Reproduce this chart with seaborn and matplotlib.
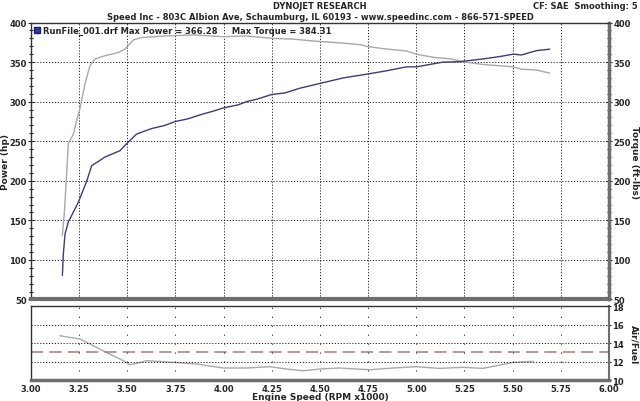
import numpy as np
import pandas as pd
import matplotlib
matplotlib.use("Agg")
import matplotlib.pyplot as plt
import seaborn as sns
from matplotlib.ticker import MultipleLocator

# Data
power_rpm = [3.163, 3.168, 3.177, 3.194, 3.246, 3.29, 3.315, 3.384, 3.462, 3.497,
             3.548, 3.626, 3.695, 3.75, 3.81, 3.894, 3.946, 3.998, 4.076, 4.119,
             4.171, 4.249, 4.318, 4.396, 4.448, 4.50, 4.621, 4.75, 4.846, 4.95,
             5.002, 5.07, 5.14, 5.226, 5.347, 5.434, 5.503, 5.546, 5.624, 5.693]
power_hp = [80.3, 107.7, 133, 148, 173, 200, 219, 230, 238, 247,
            259, 266, 270, 275, 278, 284.5, 288, 292, 296, 300,
            303, 309, 311, 317, 320, 323, 330, 335, 339, 344,
            344, 347, 350, 350.5, 354, 357, 360, 359, 364.5, 366.3]

torque_rpm = [3.163, 3.174, 3.186, 3.194, 3.22, 3.237, 3.254, 3.28, 3.306, 3.332,
              3.384, 3.453, 3.488, 3.531, 3.575, 3.695, 3.85, 4.0, 4.12, 4.25,
              4.36, 4.45, 4.5, 4.62, 4.71, 4.75, 4.846, 4.95, 5.0, 5.09,
              5.18, 5.252, 5.347, 5.503, 5.546, 5.624, 5.693]
torque_ftlb = [131, 162, 213, 247, 259, 276, 291, 322, 345.5, 354,
               358, 362, 366.5, 378, 381, 383, 384.3, 382, 383, 380,
               379, 377, 376, 374, 372, 369.5, 366.5, 364, 360, 356,
               354, 350, 347, 344, 341, 340, 336]

afr_rpm = [3.15, 3.254, 3.306, 3.39, 3.479, 3.514, 3.548, 3.60, 3.687, 3.86,
           3.998, 4.12, 4.24, 4.327, 4.413, 4.5, 4.6, 4.76, 4.88, 5.0,
           5.12, 5.24, 5.347, 5.416, 5.503, 5.607]
afr = [14.79, 14.43, 13.9, 13.0, 12.09, 11.66, 11.8, 12.09, 11.98, 11.73,
       11.3, 11.3, 11.44, 11.19, 11.0, 11.19, 11.3, 11.11, 11.3, 11.44,
       11.26, 11.37, 11.26, 11.55, 11.91, 12.02]
afr_target = 13

df_power = pd.DataFrame({"rpm": power_rpm, "val": power_hp})
df_torque = pd.DataFrame({"rpm": torque_rpm, "val": torque_ftlb})
df_afr = pd.DataFrame({"rpm": afr_rpm, "afr": afr})

sns.set_style("white")
plt.rcParams["font.family"] = ["DejaVu Sans"]
plt.rcParams["font.weight"] = "bold"

FS = 6
grid_style = dict(color="#222222", linestyle=(0, (1.2, 1.8)), linewidth=0.7)

fig = plt.figure(figsize=(6.4, 4.02), dpi=100)
ax = fig.add_axes([0.0484, 0.2525, 0.903, 0.689])
ax2 = fig.add_axes([0.0484, 0.0522, 0.903, 0.184])

# top panel: power + torque
sns.lineplot(data=df_torque, x="rpm", y="val", ax=ax, color="#a9a9a9", linewidth=1)
sns.lineplot(data=df_power, x="rpm", y="val", ax=ax, color="#3c3c7a", linewidth=1)
ax.set_xlim(3, 6)
ax.set_ylim(50, 400)
ax.xaxis.set_major_locator(MultipleLocator(0.25))
ax.yaxis.set_major_locator(MultipleLocator(50))
ax.yaxis.set_minor_locator(MultipleLocator(10))
ax.grid(True, which="major", **grid_style)
ax.tick_params(axis="x", bottom=False, labelbottom=False)
ax.tick_params(axis="y", which="both", left=True, right=True, labelleft=True,
               labelright=True, direction="inout", labelsize=FS, pad=1, width=0.8)
ax.tick_params(axis="y", which="major", length=4)
ax.tick_params(axis="y", which="minor", length=2.5)
for lab in ax.get_yticklabels():
    lab.set_fontweight("bold")
ax.set_xlabel("")
ax.set_ylabel("")
for s in ["left", "top"]:
    ax.spines[s].set_color("#333333")
    ax.spines[s].set_linewidth(1)
ax.spines["right"].set_color("#6e6e6e")
ax.spines["right"].set_linewidth(2.5)
ax.spines["bottom"].set_color("#6e6e6e")
ax.spines["bottom"].set_linewidth(3)

ax.plot([0.0104], [0.973], marker="s", markersize=5, color="#3434a8",
        markeredgecolor="#20206a", transform=ax.transAxes, clip_on=False)
ax.text(0.02, 0.973, "RunFile_001.drf Max Power = 366.28     Max Torque = 384.31",
        transform=ax.transAxes, fontsize=FS, fontweight="bold", va="center", ha="left")

# bottom panel: air/fuel
sns.lineplot(data=df_afr, x="rpm", y="afr", ax=ax2, color="#a8a8b4", linewidth=1)
ax2.axhline(afr_target, color="#b07878", linestyle=(0, (8, 4)), linewidth=1.1)
ax2.set_xlim(3, 6)
ax2.set_ylim(10, 18)
ax2.xaxis.set_major_locator(MultipleLocator(0.25))
ax2.xaxis.set_minor_locator(MultipleLocator(0.05))
ax2.yaxis.set_major_locator(MultipleLocator(2))
for y in [12, 14, 16]:
    ax2.axhline(y, **grid_style)
for x in np.arange(3.25, 6.0, 0.25):
    ax2.axvline(x, color="#222222", linestyle=(0, (1.2, 8)), linewidth=0.7)
ax2.tick_params(axis="y", left=False, labelleft=False, right=True, labelright=True,
                direction="inout", labelsize=FS, pad=1, length=3, width=0.8)
ax2.tick_params(axis="x", which="both", direction="inout", labelsize=FS, pad=1, width=0.8)
ax2.tick_params(axis="x", which="major", length=4)
ax2.tick_params(axis="x", which="minor", length=2.5)
ax2.set_xticks(np.arange(3, 6.01, 0.25))
ax2.set_xticklabels([f"{v:.2f}" for v in np.arange(3, 6.01, 0.25)], fontweight="bold")
for lab in ax2.get_yticklabels():
    lab.set_fontweight("bold")
ax2.set_ylabel("")
ax2.set_xlabel("Engine Speed (RPM x1000)", fontsize=6.5, fontweight="bold", labelpad=-0.5)
for s in ["left", "top"]:
    ax2.spines[s].set_color("#333333")
    ax2.spines[s].set_linewidth(1)
ax2.spines["right"].set_color("#6e6e6e")
ax2.spines["right"].set_linewidth(1.5)
ax2.spines["bottom"].set_color("#6e6e6e")
ax2.spines["bottom"].set_linewidth(2.5)

# header and axis titles
fig.text(0.5, 0.985, "DYNOJET RESEARCH", ha="center", va="center", fontsize=FS, fontweight="bold")
fig.text(0.5, 0.957, "Speed Inc - 803C Albion Ave, Schaumburg, IL 60193 - www.speedinc.com - 866-571-SPEED",
         ha="center", va="center", fontsize=FS, fontweight="bold")
fig.text(0.996, 0.985, "CF: SAE  Smoothing: 5", ha="right", va="center", fontsize=FS, fontweight="bold")
fig.text(0.008, 0.597, "Power (hp)", rotation=90, ha="center", va="center", fontsize=6.5, fontweight="bold")
fig.text(0.991, 0.597, "Torque (ft-lbs)", rotation=270, ha="center", va="center", fontsize=6.5, fontweight="bold")
fig.text(0.991, 0.142, "Air/Fuel", rotation=270, ha="center", va="center", fontsize=6.5, fontweight="bold")

fig.savefig("out.png", dpi=100)
